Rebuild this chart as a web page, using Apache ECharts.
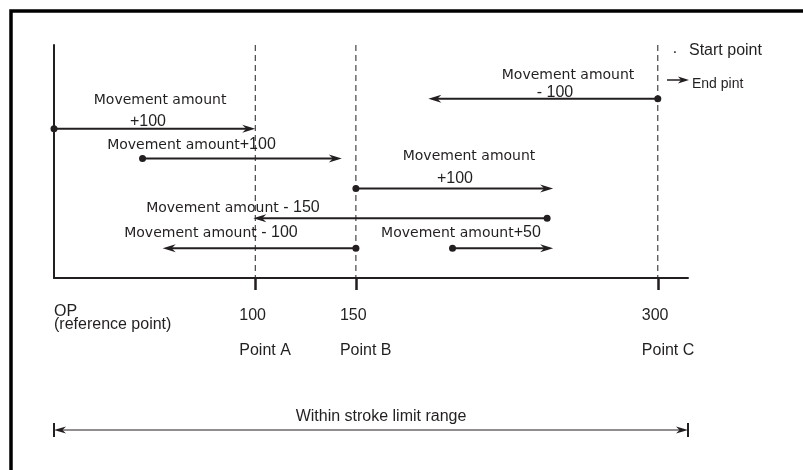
<!DOCTYPE html>
<html><head><meta charset="utf-8">
<script src="https://cdn.jsdelivr.net/npm/echarts@6/dist/echarts.min.js"></script>
<style>html,body{margin:0;padding:0;background:#fff}#c{width:803px;height:470px}</style>
</head><body><div id="c"></div>
<script>
// ---- data ----
const tickValues = [0, 100, 150, 300];
const tickLabels = ['OP', '100', '150', '300'];
const pointNames = ['(reference point)', 'Point A', 'Point B', 'Point C'];
const guideValues = [100, 150, 300];
const axisEnd = 315;
// arrows: start (dot) -> end (arrow head), on row
const arrowStart = [300, 0, 44, 150, 245, 150, 198];
const arrowEnd   = [186, 100, 143, 248, 99, 54, 248];
const arrowRow   = [0, 1, 2, 3, 4, 5, 5];
const arrowText = [
  ['Movement amount', '- 100'],
  ['Movement amount', '+100'],
  ['Movement amount+100'],
  ['Movement amount', '+100'],
  ['Movement amount - 150'],
  ['Movement amount - 100'],
  ['Movement amount+50']
];
const rangeLabel = 'Within stroke limit range';
const legendStart = 'Start point';
const legendEnd = 'End pint';

// ---- layout (label anchors: [axis value, pixel offset from arrow]) ----
const textLayout = [
  [[255.4, -23], [248.9, -6]],
  [[52.7, -28], [46.7, -7]],
  [[68.3, -14]],
  [[206.2, -32], [199.2, -10]],
  [[88.9, -11]],
  [[78.0, -16]],
  [[202.2, -16]]
];
const LINE = '#231f20';
const TXT = '#231f20';
const FONT_W = '14px "DejaVu Sans"';
const FONT_N = '16px "Liberation Sans", Arial';
const FONT_S = '14px "Liberation Sans", Arial';
const ROW_MIN = -1.8, ROW_MAX = 6;
const RICH = {
  w: { font: FONT_W, fill: TXT, verticalAlign: 'bottom' },
  n: { font: FONT_N, fill: TXT, verticalAlign: 'bottom' }
};

function arrowHead(tip, dir, len, half, notch) {
  return {
    type: 'polygon',
    shape: { points: [
      [tip[0], tip[1]],
      [tip[0] - dir * len, tip[1] - half],
      [tip[0] - dir * (len - notch), tip[1]],
      [tip[0] - dir * len, tip[1] + half]
    ] },
    style: { fill: LINE }
  };
}
function txt(x, y, text, align, font) {
  return { type: 'text', x: x, y: y,
    style: { text: text, fill: TXT, font: font || FONT_N, align: align || 'center', verticalAlign: 'middle' } };
}
function richText(x, y, t) {
  const key = 'Movement amount';
  let s;
  if (t.indexOf(key) === 0) {
    const rest = t.slice(key.length);
    s = '{w|' + key + '}' + (rest ? '{n|' + rest + '}' : '');
  } else {
    s = '{n|' + t + '}';
  }
  return { type: 'text', x: x, y: y,
    style: { text: s, rich: RICH, fill: TXT, font: FONT_N, align: 'center', verticalAlign: 'middle' } };
}

const chart = echarts.init(document.getElementById('c'), null, { renderer: 'canvas' });
chart.setOption({
  animation: false,
  backgroundColor: '#fff',
  grid: { left: 54, right: 115, top: 45, bottom: 192 },
  xAxis: {
    type: 'value', min: 0, max: axisEnd,
    axisLine: { show: true, onZero: false, lineStyle: { color: LINE, width: 2 } },
    axisTick: { show: true, customValues: [100, 150, 300], length: 12, lineStyle: { color: LINE, width: 2.5 } },
    axisLabel: { show: false },
    splitLine: { show: false }
  },
  yAxis: {
    type: 'value', min: ROW_MIN, max: ROW_MAX, inverse: true,
    axisLine: { show: true, onZero: false, lineStyle: { color: LINE, width: 2 } },
    axisTick: { show: false }, axisLabel: { show: false }, splitLine: { show: false }
  },
  graphic: [
    { type: 'polyline', shape: { points: [[11, 470], [11, 11], [803, 11]] }, style: { stroke: '#000', lineWidth: 3.5, fill: null } },
    { type: 'text', x: 675, y: 53, style: { text: '·', fill: TXT, font: FONT_N, align: 'center', verticalAlign: 'middle' } },
    { type: 'text', x: 689, y: 51, style: { text: legendStart, fill: TXT, font: FONT_N, align: 'left', verticalAlign: 'middle' } },
    { type: 'line', shape: { x1: 667, y1: 80, x2: 681, y2: 80 }, style: { stroke: LINE, lineWidth: 1.5 } },
    { type: 'polygon', shape: { points: [[689, 80], [678, 76.5], [681, 80], [678, 83.5]] }, style: { fill: LINE } },
    { type: 'text', x: 692, y: 84, style: { text: legendEnd, fill: TXT, font: FONT_S, align: 'left', verticalAlign: 'middle' } }
  ],
  series: [
    { // dashed guides
      type: 'custom', clip: false, silent: true,
      data: guideValues.map(v => [v]),
      encode: { x: 0 },
      renderItem: function (params, api) {
        const v = api.value(0);
        const a = api.coord([v, ROW_MIN]), b = api.coord([v, ROW_MAX]);
        return { type: 'line', shape: { x1: a[0], y1: a[1], x2: b[0], y2: b[1] },
          style: { stroke: LINE, lineWidth: 1, lineDash: [6, 4] } };
      }
    },
    { // tick labels under the axis
      type: 'custom', clip: false, silent: true,
      data: tickValues.map((v, i) => [v, i]),
      encode: { x: 0 },
      renderItem: function (params, api) {
        const i = api.value(1);
        const p = api.coord([api.value(0), ROW_MAX]);
        const x = i === 0 ? p[0] : p[0] - 16;
        return { type: 'group', children: [
          txt(x, p[1] + (i === 0 ? 34 : 38), tickLabels[i], 'left'),
          txt(x, p[1] + (i === 0 ? 47 : 73), pointNames[i], 'left')
        ] };
      }
    },
    { // movement arrows
      type: 'custom', clip: false, silent: true,
      data: arrowStart.map((s, i) => [s, arrowEnd[i], arrowRow[i], i]),
      encode: { x: [0, 1], y: 2 },
      renderItem: function (params, api) {
        const i = api.value(3), row = api.value(2);
        const p0 = api.coord([api.value(0), row]);
        const p1 = api.coord([api.value(1), row]);
        const dir = p1[0] > p0[0] ? 1 : -1;
        const children = [
          { type: 'line', shape: { x1: p0[0], y1: p0[1], x2: p1[0] - dir * 8, y2: p1[1] }, style: { stroke: LINE, lineWidth: 2 } },
          { type: 'circle', shape: { cx: p0[0], cy: p0[1], r: 3.5 }, style: { fill: LINE } },
          arrowHead(p1, dir, 13, 4, 4)
        ];
        arrowText[i].forEach((t, j) => {
          const L = textLayout[i][j];
          const c = api.coord([L[0], row]);
          children.push(richText(c[0], p0[1] + L[1], t));
        });
        return { type: 'group', children: children };
      }
    },
    { // stroke limit range
      type: 'custom', clip: false, silent: true,
      data: [[0, axisEnd]],
      encode: { x: [0, 1] },
      renderItem: function (params, api) {
        const a = api.coord([api.value(0), ROW_MAX]);
        const b = api.coord([api.value(1), ROW_MAX]);
        const y = a[1] + 152;
        return { type: 'group', children: [
          { type: 'line', shape: { x1: a[0] + 6, y1: y, x2: b[0] - 6, y2: y }, style: { stroke: LINE, lineWidth: 1 } },
          { type: 'line', shape: { x1: a[0], y1: y - 7, x2: a[0], y2: y + 7 }, style: { stroke: LINE, lineWidth: 2 } },
          { type: 'line', shape: { x1: b[0], y1: y - 7, x2: b[0], y2: y + 7 }, style: { stroke: LINE, lineWidth: 2 } },
          arrowHead([a[0], y], -1, 12, 3.5, 3.5),
          arrowHead([b[0], y], 1, 12, 3.5, 3.5),
          txt((a[0] + b[0]) / 2 + 10, y - 13, rangeLabel, 'center')
        ] };
      }
    }
  ]
});
</script>
</body></html>
